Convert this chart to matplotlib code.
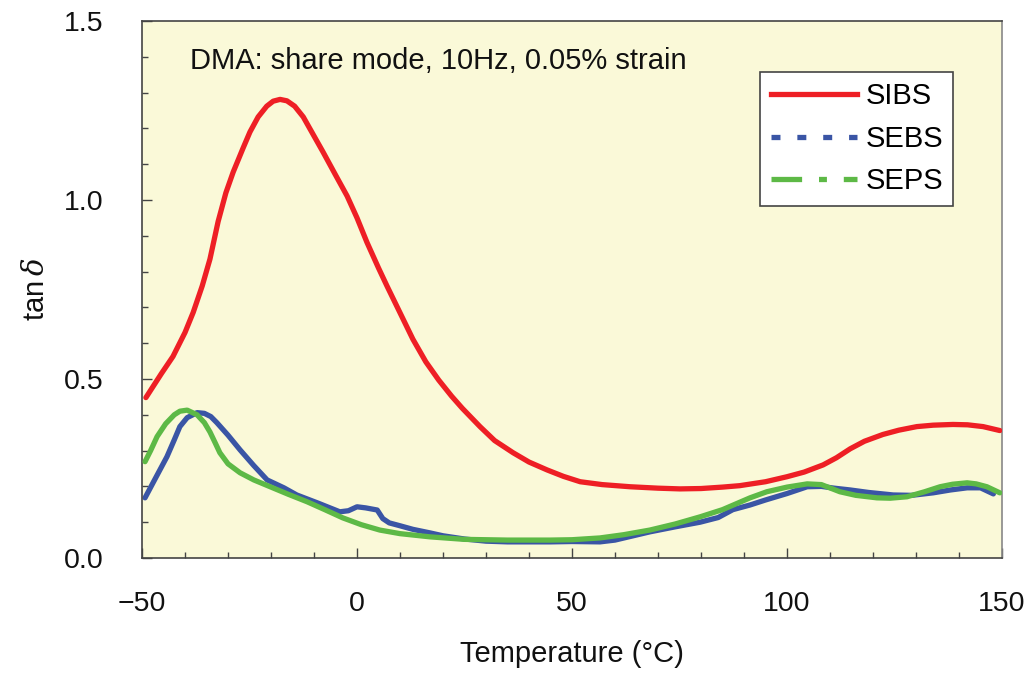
import matplotlib
matplotlib.use("Agg")
import matplotlib.pyplot as plt
from matplotlib.lines import Line2D
from matplotlib.ticker import MultipleLocator, FixedLocator

plt.rcParams['font.family'] = ['Liberation Sans', 'DejaVu Sans']
plt.rcParams['mathtext.fontset'] = 'dejavuserif'

# ---- data ----
sibs_x = [-49.1, -45.5, -42.8, -40.0, -38.1, -36.0, -34.2, -32.3, -30.5, -28.8, -26.5, -24.9, -23.0,
          -21.0, -19.5, -17.9, -16.3, -14.5, -12.5, -11.0, -7.9, -5.0, -2.3, 0.0, 2.3, 5.0, 7.0, 10.0,
          13.0, 16.0, 19.0, 22.0, 24.5, 28.6, 32.0, 36.3, 40.0, 44.2, 48.0, 51.9, 57.0, 63.5, 70.0,
          75.1, 80.0, 85.0, 89.0, 95.0, 100.0, 104.0, 108.4, 111.5, 114.7, 118.0, 122.3, 126.0, 130.2,
          134.0, 138.6, 142.0, 145.6, 149.5]
sibs_y = [0.448, 0.515, 0.563, 0.630, 0.686, 0.760, 0.835, 0.940, 1.020, 1.078, 1.145, 1.190, 1.232,
          1.262, 1.276, 1.281, 1.277, 1.262, 1.232, 1.200, 1.134, 1.070, 1.011, 0.950, 0.882, 0.810,
          0.759, 0.685, 0.611, 0.548, 0.497, 0.452, 0.418, 0.367, 0.328, 0.294, 0.268, 0.246, 0.228,
          0.213, 0.205, 0.199, 0.195, 0.193, 0.194, 0.198, 0.202, 0.213, 0.227, 0.240, 0.260, 0.280,
          0.305, 0.326, 0.345, 0.357, 0.367, 0.371, 0.373, 0.372, 0.367, 0.356]

sebs_x = [-49.3, -47.0, -44.2, -42.5, -41.2, -39.5, -37.2, -35.5, -34.0, -32.6, -30.0, -27.2, -24.0,
          -20.9, -17.0, -14.0, -9.0, -4.0, -2.0, 0.0, 2.0, 4.7, 6.0, 7.5, 10.0, 13.0, 17.0, 20.0, 25.0,
          30.0, 35.0, 40.0, 45.0, 50.0, 56.5, 60.0, 68.1, 74.0, 79.8, 84.0, 87.4, 91.4, 95.0, 100.0,
          104.7, 108.0, 111.0, 114.7, 119.0, 124.7, 129.0, 134.0, 138.0, 141.9, 145.0, 148.0]
sebs_y = [0.168, 0.220, 0.283, 0.330, 0.367, 0.392, 0.406, 0.404, 0.395, 0.378, 0.343, 0.302, 0.258,
          0.218, 0.196, 0.176, 0.153, 0.129, 0.132, 0.143, 0.140, 0.134, 0.110, 0.098, 0.090, 0.080,
          0.070, 0.062, 0.053, 0.047, 0.045, 0.045, 0.045, 0.046, 0.045, 0.050, 0.073, 0.087, 0.100,
          0.113, 0.135, 0.148, 0.162, 0.180, 0.199, 0.200, 0.195, 0.190, 0.183, 0.176, 0.175, 0.182,
          0.190, 0.196, 0.196, 0.179]

seps_x = [-49.3, -48.0, -46.5, -44.5, -42.5, -41.2, -39.5, -37.2, -35.5, -34.2, -33.0, -31.9, -30.0,
          -27.2, -24.0, -20.2, -16.0, -11.6, -7.5, -3.3, 1.0, 5.3, 10.0, 17.0, 25.0, 35.0, 44.9, 50.0,
          56.5, 62.0, 68.1, 74.0, 79.8, 85.0, 91.4, 95.3, 100.0, 104.7, 108.0, 112.3, 116.0, 120.9,
          124.0, 127.9, 132.0, 135.6, 138.5, 141.9, 144.0, 146.5, 149.5]
seps_y = [0.269, 0.300, 0.339, 0.375, 0.400, 0.410, 0.413, 0.400, 0.378, 0.352, 0.322, 0.294, 0.263,
          0.238, 0.218, 0.199, 0.178, 0.157, 0.135, 0.112, 0.093, 0.078, 0.068, 0.059, 0.052, 0.050,
          0.050, 0.051, 0.056, 0.065, 0.078, 0.095, 0.115, 0.135, 0.168, 0.185, 0.198, 0.207, 0.205,
          0.185, 0.175, 0.168, 0.167, 0.171, 0.185, 0.199, 0.206, 0.210, 0.207, 0.199, 0.182]

series_names = ['SIBS', 'SEBS', 'SEPS']
x_major = [-50, 0, 50, 100, 150]
x_labels = ['\u221250', '0', '50', '100', '150']
y_major = [0.0, 0.5, 1.0, 1.5]
y_labels = ['0.0', '0.5', '1.0', '1.5']

RED = '#EE1F25'
BLUE = '#3A55A5'
GREEN = '#5DB946'
FS = 21

fig = plt.figure(figsize=(10.24, 6.73), dpi=100)
ax = fig.add_axes([0.1387, 0.1709, 0.8398, 0.7979])
ax.set_facecolor('#FAF9D8')

lw = 3.8
ax.plot(seps_x, seps_y, color=GREEN, lw=lw, solid_capstyle='round', solid_joinstyle='round', zorder=3)
ax.plot(sebs_x, sebs_y, color=BLUE, lw=lw, solid_capstyle='round', solid_joinstyle='round', zorder=2)
ax.plot(sibs_x, sibs_y, color=RED, lw=lw, solid_capstyle='round', solid_joinstyle='round', zorder=4)

ax.set_xlim(-50, 150)
ax.set_ylim(0, 1.5)
ax.xaxis.set_major_locator(FixedLocator(x_major))
ax.set_xticklabels(x_labels)
ax.xaxis.set_minor_locator(MultipleLocator(10))
ax.yaxis.set_major_locator(FixedLocator(y_major))
ax.set_yticklabels(y_labels)
ax.yaxis.set_minor_locator(MultipleLocator(0.1))

ax.tick_params(which='both', direction='in', color='#444444', width=1.0, labelsize=20.5,
               top=False, right=False, labelcolor='#111111')
ax.tick_params(which='major', length=7.5)
ax.tick_params(which='minor', length=4.5)
ax.tick_params(axis='y', which='both', pad=28)
ax.tick_params(axis='x', which='both', pad=24)

for s in ax.spines.values():
    s.set_color('#444444')
    s.set_linewidth(1.2)
ax.spines['right'].set_color('#888888')

ax.set_xlabel('Temperature (\u00b0C)', fontsize=FS, labelpad=16, color='#111111')
ax.set_ylabel(r'tan$\,\delta$', fontsize=FS, labelpad=10, color='#111111')

ax.text(-38.8, 1.389, 'DMA: share mode, 10Hz, 0.05% strain', fontsize=FS, va='center', ha='left',
        color='#111111')

handles = [
    Line2D([], [], color=RED, lw=lw, linestyle='-'),
    Line2D([], [], color=BLUE, lw=lw, linestyle=(0, (1.7, 3.2)), dash_capstyle='butt'),
    Line2D([], [], color=GREEN, lw=lw, linestyle=(0, (5.8, 3.2, 1.5, 3.2)), dash_capstyle='butt'),
]
leg = ax.legend(handles, series_names, loc='upper left', bbox_to_anchor=(0.719, 0.905),
                fontsize=FS, handlelength=2.95, handletextpad=0.3, labelspacing=0.5,
                borderpad=0.35, borderaxespad=0, fancybox=False, framealpha=1,
                edgecolor='#444444', facecolor='white')
leg.get_frame().set_linewidth(1.2)

fig.savefig('out.png', dpi=100)
